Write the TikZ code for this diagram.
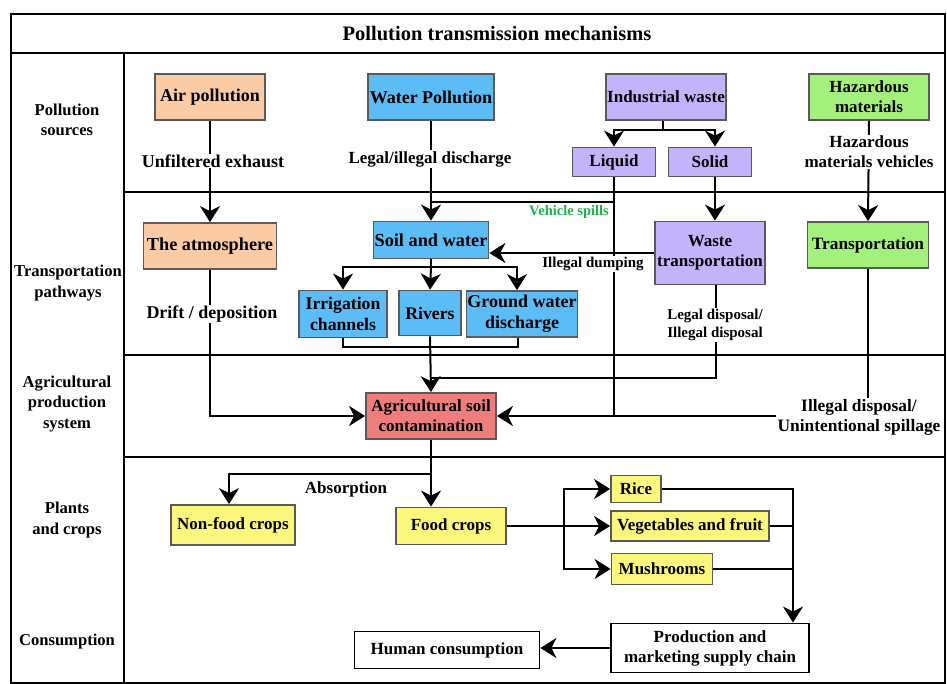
\documentclass[tikz,border=0pt]{standalone}
\usepackage{fontspec}
\setmainfont{Liberation Serif}
\usetikzlibrary{arrows.meta}
\definecolor{cOrange}{HTML}{FBCBA6}
\definecolor{cBlue}{HTML}{5CBDF6}
\definecolor{cPurple}{HTML}{C3B3FA}
\definecolor{cGreen}{HTML}{A3F07C}
\definecolor{cRed}{HTML}{F07D7D}
\definecolor{cYellow}{HTML}{FAF77C}
\definecolor{cBorder}{HTML}{5A5A5A}
\definecolor{cSpill}{HTML}{1DB14B}
\begin{document}
\begin{tikzpicture}[x=1pt,y=-1pt,
  frame/.style={line width=2pt, black},
  box/.style={draw=cBorder, line width=1.8pt, align=center, inner sep=1pt,
    font=\fontsize{17}{20}\selectfont\bfseries},
  bigtxt/.style={font=\fontsize{18}{21}\selectfont\bfseries},
  wbox/.style={box, draw=black, fill=white},
  lbl/.style={fill=white, align=center, inner xsep=2pt, inner ysep=1pt,
    font=\fontsize{17}{20}\selectfont\bfseries},
  slbl/.style={lbl, font=\fontsize{15}{18}\selectfont\bfseries},
  side/.style={align=center, font=\fontsize{16.6}{20.5}\selectfont\bfseries},
  conn/.style={line width=2pt, black},
  arr/.style={conn, -{Stealth[length=16pt,width=20pt,inset=5pt]}}
]
\useasboundingbox (0,0) rectangle (947,684);

% frame
\draw[frame] (11,14) rectangle (945,683);
\draw[frame] (11,53) -- (945,53);
\draw[frame] (124,53) -- (124,683);
\draw[frame] (124,192) -- (945,192);
\draw[frame] (124,355) -- (945,355);
\draw[frame] (124,457) -- (945,457);

\node[font=\fontsize{20.5}{24}\selectfont\bfseries] (title) at (497,34) {Pollution transmission mechanisms};

% side labels
\node[side] (s1) at (67,120) {Pollution\\sources};
\node[side] (s2) at (68,283) {Transportation\\pathways};
\node[side] (s3) at (67,404) {Agricultural\\production\\system};
\node[side] (s4) at (67,520) {Plants\\and crops};
\node[side] (s5) at (67,642) {Consumption};

% boxes
\node[box, bigtxt, fill=cOrange, minimum width=110, minimum height=46] (air) at (210,97) {Air pollution};
\node[box, bigtxt, fill=cBlue, minimum width=126, minimum height=46] (water) at (431,97) {Water Pollution};
\node[box, fill=cPurple, minimum width=119, minimum height=46] (indw) at (666,97) {Industrial waste};
\node[box, fill=cGreen, minimum width=120, minimum height=46] (haz) at (869,97) {Hazardous\\materials};
\node[box, fill=cPurple, minimum width=83, minimum height=29] (liquid) at (614,162) {Liquid};
\node[box, fill=cPurple, minimum width=83, minimum height=29] (solid) at (710,162) {Solid};

\node[box, font=\fontsize{18.3}{21}\selectfont\bfseries, fill=cOrange, minimum width=133, minimum height=46] (atmo) at (210,246) {The atmosphere};
\node[box, font=\fontsize{18.3}{21}\selectfont\bfseries, fill=cBlue, minimum width=114, minimum height=37] (soilw) at (431,240) {Soil and water};
\node[box, fill=cPurple, minimum width=110, minimum height=63] (wastet) at (710,253) {Waste\\transportation};
\node[box, font=\fontsize{17.3}{20}\selectfont\bfseries, fill=cGreen, minimum width=121, minimum height=46] (transp) at (868,245) {Transportation};
\node[box, font=\fontsize{17.7}{21}\selectfont\bfseries, fill=cBlue, minimum width=88, minimum height=47] (irrig) at (343,314) {Irrigation\\channels};
\node[box, font=\fontsize{17.7}{21}\selectfont\bfseries, fill=cBlue, minimum width=62, minimum height=45] (rivers) at (430,313) {Rivers};
\node[box, bigtxt, fill=cBlue, minimum width=111, minimum height=46] (ground) at (522,314) {Ground water\\discharge};

\node[box, fill=cRed, minimum width=130, minimum height=46] (agri) at (431,416) {Agricultural soil\\contamination};

\node[box, fill=cYellow, minimum width=124, minimum height=40] (nonfood) at (233,525) {Non-food crops};
\node[box, fill=cYellow, minimum width=110, minimum height=37] (food) at (451,526) {Food crops};
\node[box, fill=cYellow, minimum width=50, minimum height=27] (rice) at (636,489) {Rice};
\node[box, fill=cYellow, minimum width=158, minimum height=30] (veg) at (690,526) {Vegetables and fruit};
\node[box, fill=cYellow, minimum width=101, minimum height=31] (mush) at (662,569) {Mushrooms};

\node[wbox, minimum width=198, minimum height=49] (prod) at (710,648) {Production and\\marketing supply chain};
\node[wbox, minimum width=185, minimum height=37] (human) at (447,650) {Human consumption};

% junction coordinates
\coordinate (jIW) at (663,130);
\coordinate (jVS) at (614,202);
\coordinate (jSW) at (431,267);
\coordinate (jB) at (431,347);
\coordinate (jWT) at (431,378);
\coordinate (jA) at (431,474);
\coordinate (jF) at (564,526);
\coordinate (jR) at (793,489);

% connectors
\draw[arr] (air.south) -- (atmo.north);
\draw[arr] (atmo.south) |- (agri.west);
\draw[arr] (water.south) -- (soilw.north);
\draw[conn] ([xshift=-3pt]indw.south) -- (jIW);
\draw[arr] (jIW) -| (liquid.north);
\draw[arr] (jIW) -| ([xshift=5pt]solid.north);
\draw[conn] (liquid.south) -- (liquid.south |- agri.east);
\draw[conn] (jVS) -- (jVS -| water.south);
\draw[arr] ([xshift=5pt]solid.south) -- ([xshift=5pt]solid.south |- wastet.north);
\draw[arr] (wastet.west) -- (wastet.west -| soilw.east);
\draw[arr] (haz.south) -- (transp.north);
\draw[arr] (transp.south) |- (agri.east);
\draw[conn] ([xshift=6pt]wastet.south) |- (jWT);
\draw[conn] (soilw.south) -- (jSW);
\draw[arr] (jSW) -| (irrig.north);
\draw[arr] (jSW) -| ([xshift=-5pt]ground.north);
\draw[arr] (jSW) -- (rivers.north);
\draw[conn] (irrig.south) |- (jB) -| ([xshift=-4pt]ground.south);
\draw[arr] (rivers.south) -- (agri.north);
\draw[conn] (agri.south) -- (jA);
\draw[arr] (jA) -| ([xshift=-4pt]nonfood.north);
\draw[arr] (jA) -- (jA |- food.north);
\draw[arr] (food.east) -- (food.east -| veg.west);
\draw[arr] (jF) |- (rice.west);
\draw[arr] (jF) |- (mush.west);
\draw[arr] (rice.east) -| (prod.north -| jR);
\draw[conn] (veg.east) -- (veg.east -| jR);
\draw[conn] (mush.east) -- (mush.east -| jR);
\draw[arr] (prod.west) -- (prod.west -| human.east);

% connector labels
\node[lbl, bigtxt] (l1) at (213,161) {Unfiltered exhaust};
\node[lbl] (l2) at (430,159) {Legal/illegal discharge};
\node[lbl] (l3) at (869,152) {Hazardous\\materials vehicles};
\node[lbl, bigtxt] (l4) at (212,314) {Drift / deposition};
\node[slbl] (l5) at (593,264) {Illegal dumping};
\node[font=\fontsize{14.5}{17}\selectfont\bfseries, text=cSpill, inner sep=1pt] (l6) at (569,212) {Vehicle spills};
\node[slbl] (l7) at (715,325) {Legal disposal/\\Illegal disposal};
\node[lbl, font=\fontsize{17.4}{20}\selectfont\bfseries] (l8) at (859,417) {Illegal disposal/\\Unintentional spillage};
\node[lbl] (l9) at (346,489) {Absorption};
\end{tikzpicture}
\end{document}
